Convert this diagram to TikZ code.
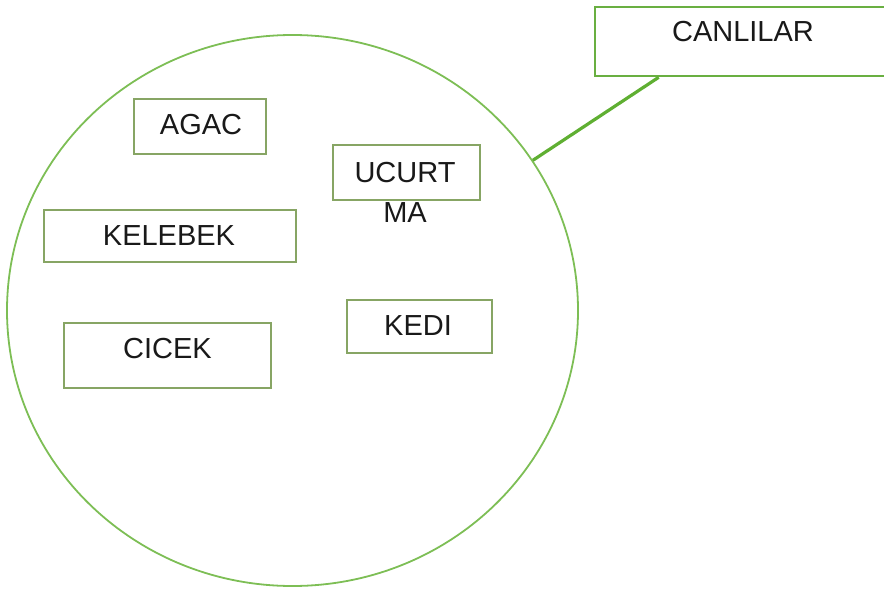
\documentclass[tikz,border=0pt]{standalone}
\usepackage{fontspec}
\setmainfont{Liberation Sans}
\usetikzlibrary{shapes.geometric,positioning}
\definecolor{setgreen}  {RGB}{125, 190,  85}
\definecolor{boxolive}  {RGB}{135, 165, 100}
\definecolor{tagegreen} {RGB}{105, 175,  65}
\definecolor{linkgreen} {RGB}{ 95, 175,  50}

\begin{document}
\begin{tikzpicture}[x=1pt,y=-1pt,
  every node/.style={font=\fontsize{29}{40}\selectfont,text=black!90},
  set/.style={draw=setgreen,line width=1.8pt,ellipse,inner sep=0pt,
              minimum width=571pt,minimum height=551pt},
  item/.style={draw=boxolive,line width=1.8pt,inner sep=0pt},
  tagbox/.style={draw=tagegreen,line width=2.6pt,inner sep=0pt},
  lbl/.style={inner sep=0pt,align=center},
  link/.style={draw=linkgreen,line width=3.2pt},
]
\useasboundingbox (0,0) rectangle (884,591);

%% -- the set --------------------------------------------------------------
\node[set] (canlilar-set) at (292.5,310.5) {};

%% -- members ------------------------------------------------------------
\node[item,minimum width=132pt,minimum height=55pt] (agac) at (200,126.5) {};
\node[lbl] (agac-text) at (201,125) {AGAC};

\node[item,minimum width=147pt,minimum height=55pt] (ucurtma) at (406.5,172.5) {};
\node[lbl] (ucurtma-text) at (405,192) {UCURT\\MA};

\node[item,minimum width=252pt,minimum height=52pt] (kelebek) at (170,236) {};
\node[lbl] (kelebek-text) at (169,236) {KELEBEK};

\node[item,minimum width=207pt,minimum height=65pt] (cicek) at (167.5,355.5) {};
\node[lbl] (cicek-text) at (167.5,349) {CICEK};

\node[item,minimum width=145pt,minimum height=53pt] (kedi) at (419.5,326.5) {};
\node[lbl] (kedi-text) at (418,326) {KEDI};

%% -- set name -------------------------------------------------------------
\node[tagbox,minimum width=297pt,minimum height=69pt] (canlilar) at (743.5,41.5) {};
\node[lbl] (canlilar-text) at (743,32) {CANLILAR};

%% -- connector ------------------------------------------------------------
\draw[link] (canlilar-set.32) -- ([xshift=65pt]canlilar.south west);

\end{tikzpicture}
\end{document}
